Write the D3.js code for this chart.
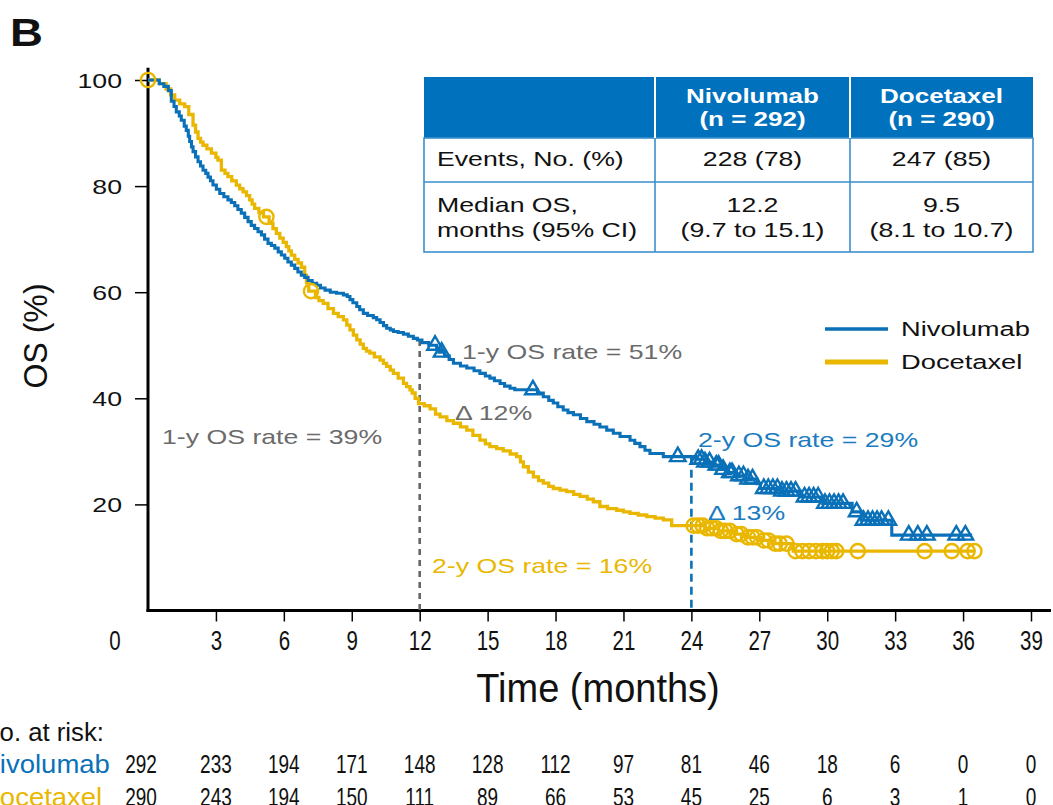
<!DOCTYPE html>
<html>
<head>
<meta charset="utf-8">
<script src="https://cdn.jsdelivr.net/npm/d3@7"></script>
<style>
  body { margin: 0; background: #fff; }
  svg { display: block; }
</style>
</head>
<body>
<svg id="chart" width="1053" height="805"></svg>
<script>
// ---------------- data ----------------
// Kaplan-Meier steps: time (months) and survival (%) after each step
const nivoTimes = [0, 0.5, 0.7, 0.9, 1.03, 1.15, 1.25, 1.38, 1.47, 1.6, 1.69, 1.78, 1.84, 1.92, 1.99, 2.1, 2.21, 2.32, 2.43, 2.55, 2.65, 2.76, 2.87, 3.02, 3.17, 3.35, 3.53, 3.68, 3.83, 3.97, 4.12, 4.27, 4.42, 4.56, 4.71, 4.86, 5.01, 5.15, 5.3, 5.45, 5.6, 5.75, 5.89, 6.04, 6.18, 6.33, 6.48, 6.62, 6.77, 6.92, 7.07, 7.25, 7.45, 7.62, 7.82, 8.05, 8.33, 8.63, 8.8, 8.92, 9.05, 9.22, 9.35, 9.51, 9.7, 9.95, 10.1, 10.25, 10.4, 10.54, 10.7, 10.84, 11.05, 11.28, 11.5, 11.72, 11.9, 12.1, 12.4, 12.75, 12.85, 13.1, 13.3, 13.49, 13.8, 14.08, 14.4, 14.66, 14.9, 15.1, 15.3, 15.55, 15.75, 15.99, 16.2, 17.2, 17.46, 17.7, 17.9, 18.1, 18.34, 18.55, 18.79, 19.1, 19.38, 19.7, 19.96, 20.26, 20.55, 20.85, 21.29, 21.5, 21.73, 21.95, 22.17, 22.76, 24.2, 24.6, 25.0, 25.3, 25.6, 25.95, 26.4, 26.9, 27.05, 28.0, 28.8, 29.8, 31.1, 31.5, 32.85, 36.4];
const nivoSurv  = [100, 99.3, 98.8, 98.0, 96.0, 95.0, 94.0, 93.2, 92.4, 91.3, 90.5, 89.4, 88.4, 87.4, 86.5, 85.5, 84.6, 83.8, 83.0, 82.4, 81.7, 81.0, 80.2, 79.4, 78.6, 78.0, 77.4, 76.9, 76.3, 75.6, 74.9, 74.1, 73.3, 72.6, 72.0, 71.4, 70.8, 70.0, 69.2, 68.8, 68.3, 67.6, 67.0, 66.4, 65.7, 65.1, 64.5, 63.8, 63.2, 62.8, 62.2, 61.7, 61.3, 60.8, 60.4, 60.0, 59.8, 59.5, 59.2, 58.6, 58.0, 57.3, 56.7, 56.0, 55.6, 55.2, 54.8, 54.3, 53.7, 53.2, 52.9, 52.6, 52.4, 52.1, 51.7, 51.3, 51.0, 50.5, 50.0, 49.3, 48.7, 48.0, 47.3, 46.6, 46.1, 45.7, 45.2, 44.7, 44.2, 43.8, 43.3, 42.8, 42.3, 41.9, 41.6, 41.0, 40.3, 39.6, 39.1, 38.4, 37.8, 37.3, 36.9, 36.2, 35.6, 35.1, 34.6, 34.0, 33.4, 32.8, 32.1, 31.5, 30.9, 30.2, 29.6, 29.0, 28.5, 28.0, 27.4, 26.6, 26.0, 25.4, 24.8, 23.9, 23.0, 22.5, 21.4, 20.2, 18.6, 17.0, 14.2, 14.2];
const nivoCensor = [12.68, 12.97, 17.0, 23.4, 24.3, 24.45, 24.6, 24.8, 25.1, 25.2, 25.4, 25.7, 25.8, 26.1, 26.3, 26.5, 26.7, 27.2, 27.4, 27.6, 27.8, 28.0, 28.2, 28.4, 28.6, 29.0, 29.2, 29.4, 29.6, 29.9, 30.1, 30.3, 30.5, 30.7, 31.3, 31.6, 31.8, 32.0, 32.2, 32.4, 32.7, 33.6, 34.0, 34.4, 35.7, 36.1];

const doceTimes = [0, 0.5, 0.8, 1.0, 1.18, 1.4, 1.62, 1.8, 1.99, 2.1, 2.21, 2.32, 2.43, 2.6, 2.8, 3.0, 3.09, 3.24, 3.4, 3.53, 3.7, 3.9, 4.05, 4.2, 4.35, 4.49, 4.6, 4.71, 4.9, 5.1, 5.35, 5.52, 5.67, 5.82, 5.97, 6.11, 6.22, 6.33, 6.48, 6.63, 6.78, 6.92, 7.0, 7.1, 7.4, 7.55, 7.74, 7.95, 8.19, 8.4, 8.63, 8.78, 8.92, 9.07, 9.22, 9.37, 9.51, 9.65, 9.8, 10.0, 10.25, 10.4, 10.54, 10.7, 10.84, 11.05, 11.28, 11.42, 11.57, 11.67, 11.8, 11.95, 12.2, 12.46, 12.7, 12.9, 13.2, 13.49, 13.8, 14.08, 14.35, 14.66, 14.9, 15.1, 15.4, 15.69, 16.0, 16.28, 16.45, 16.58, 16.8, 17.02, 17.25, 17.46, 17.7, 17.9, 18.2, 18.49, 18.8, 19.08, 19.4, 19.67, 19.96, 20.3, 20.7, 21.0, 21.29, 21.65, 22.03, 22.4, 22.76, 23.13, 24.6, 25.2, 25.9, 26.4, 27.0, 27.6, 28.5, 36.5];
const doceSurv  = [100, 99.3, 98.3, 97.2, 96.2, 95.5, 95.0, 93.5, 91.5, 90.2, 89.0, 88.3, 87.7, 87.0, 86.2, 85.4, 84.9, 83.0, 82.4, 81.8, 81.0, 80.2, 79.5, 78.9, 78.2, 77.4, 76.6, 75.8, 75.0, 74.2, 73.0, 72.0, 71.1, 70.2, 69.4, 68.6, 67.8, 67.0, 66.2, 65.5, 64.7, 63.2, 61.8, 60.2, 59.0, 58.4, 57.9, 56.9, 56.0, 55.4, 54.8, 53.8, 52.9, 51.9, 51.0, 50.2, 49.4, 48.9, 48.5, 47.8, 47.2, 46.6, 46.0, 45.3, 44.7, 43.8, 42.8, 42.2, 41.6, 41.0, 40.0, 39.0, 38.6, 38.0, 37.0, 36.5, 35.8, 35.3, 34.6, 34.0, 33.0, 32.1, 31.4, 30.9, 30.5, 30.1, 29.5, 29.0, 28.0, 27.1, 26.1, 25.2, 24.5, 24.0, 23.4, 23.0, 22.7, 22.4, 21.9, 21.5, 21.0, 20.5, 19.6, 19.2, 18.9, 18.6, 18.3, 18.0, 17.7, 17.4, 17.1, 16.0, 15.5, 15.0, 14.4, 13.8, 13.2, 12.6, 11.2, 11.2];
const doceCensor = [0, 5.23, 7.2, 24.1, 24.3, 24.5, 24.7, 24.9, 25.1, 25.3, 25.5, 25.7, 26.0, 26.2, 26.5, 26.7, 26.9, 27.2, 27.4, 27.7, 27.9, 28.2, 28.6, 28.9, 29.2, 29.5, 29.8, 30.0, 30.2, 30.4, 31.35, 34.3, 35.5, 36.2, 36.5];

// landmark survival rates (1 year, 2 years)
const landmarkMonths = [12, 24];
const nivoRates = [51, 29];
const doceRates = [39, 16];
const rateDiffs = [12, 13];

const xTicks = [3, 6, 9, 12, 15, 18, 21, 24, 27, 30, 33, 36, 39];
const yTicks = [20, 40, 60, 80, 100];

const riskTimes = [0, 3, 6, 9, 12, 15, 18, 21, 24, 27, 30, 33, 36, 39];
const nivoAtRisk = [292, 233, 194, 171, 148, 128, 112, 97, 81, 46, 18, 6, 0, 0];
const doceAtRisk = [290, 243, 194, 150, 111, 89, 66, 53, 45, 25, 6, 3, 1, 0];

const armNames = ["Nivolumab", "Docetaxel"];
const armN = [292, 290];
const eventsRow = ["228 (78)", "247 (85)"];
const medianRow = ["12.2", "9.5"];
const ciRow = ["(9.7 to 15.1)", "(8.1 to 10.7)"];

// ---------------- styling ----------------
const BLUE = "#0a71b9";
const YELLOW = "#eab700";
const GRAY = "#6b6b6b";
const SANS = "'Liberation Sans', Arial, Helvetica, sans-serif";
const SX = 1.27; // horizontal stretch of the regular text
const CX = 0.76; // horizontal squeeze of the condensed text

const svg = d3.select("#chart");

const x = d3.scaleLinear().domain([0, 39]).range([148, 1031]);
const y = d3.scaleLinear().domain([0, 100]).range([610.5, 80]);

// text helper: (x, y) is the anchor point at vertical middle
function addText(parent, px, py, str, o = {}) {
  const tr = `translate(${px},${py})` + (o.rotate ? ` rotate(${o.rotate})` : "") +
             ` scale(${o.sx ?? SX},${o.sy ?? 1})`;
  const g = parent.append("g").attr("transform", tr);
  return g.append("text")
    .attr("text-anchor", o.anchor || "start")
    .attr("dy", "0.35em")
    .attr("fill", o.fill || "#111")
    .style("font-family", o.family || SANS)
    .style("font-size", (o.size || 21) + "px")
    .style("font-weight", o.weight || "normal")
    .text(str);
}

// panel letter
addText(svg, 10, 33, "B", { size: 38, weight: "bold", sx: 1.2 });

// ---------------- axes ----------------
const axisG = svg.append("g");

// y axis
axisG.append("line")
  .attr("x1", x(0)).attr("x2", x(0))
  .attr("y1", y(102.3)).attr("y2", y(0) + 1.5)
  .attr("stroke", "#000").attr("stroke-width", 3);

const yAxis = axisG.append("g")
  .attr("transform", `translate(${x(0)},0)`)
  .call(d3.axisLeft(y).tickValues(yTicks).tickSize(13).tickFormat(d3.format("d")));
yAxis.select(".domain").remove();
yAxis.selectAll(".tick line").attr("stroke", "#000").attr("stroke-width", 1.5);
yAxis.selectAll(".tick text")
  .attr("x", 0).attr("dy", "0.35em")
  .attr("transform", `translate(-26,0) scale(${SX},1)`)
  .attr("fill", "#111")
  .style("font-family", SANS).style("font-size", "21px");

// x axis
axisG.append("line")
  .attr("x1", x(0) - 1.5).attr("x2", 1051)
  .attr("y1", y(0)).attr("y2", y(0))
  .attr("stroke", "#000").attr("stroke-width", 3);

const xAxis = axisG.append("g")
  .attr("transform", `translate(0,${y(0)})`)
  .call(d3.axisBottom(x).tickValues(xTicks).tickSize(11).tickFormat(d3.format("d")));
xAxis.select(".domain").remove();
xAxis.selectAll(".tick line").attr("stroke", "#000").attr("stroke-width", 1.5);
xAxis.selectAll(".tick text")
  .attr("y", 0).attr("dy", "0.35em")
  .attr("transform", `translate(0,30) scale(${CX},1)`)
  .attr("fill", "#111")
  .style("font-family", SANS).style("font-size", "27px");
// origin label
addText(svg, x(0) - 33, y(0) + 30, "0", { size: 27, sx: CX, anchor: "middle" });

// axis titles
addText(svg, 598, 688, "Time (months)", { size: 40, sx: 0.95, anchor: "middle" });
addText(svg, 35, 336, "OS (%)", { size: 30, rotate: -90, sx: 1.07, sy: 1.12, anchor: "middle" });

// ---------------- landmark reference lines ----------------
svg.append("line")
  .attr("x1", x(landmarkMonths[0])).attr("x2", x(landmarkMonths[0]))
  .attr("y1", y(nivoRates[0])).attr("y2", y(0))
  .attr("stroke", "#666").attr("stroke-width", 2.6).attr("stroke-dasharray", "6,5");
svg.append("line")
  .attr("x1", x(landmarkMonths[1])).attr("x2", x(landmarkMonths[1]))
  .attr("y1", y(nivoRates[1])).attr("y2", y(0))
  .attr("stroke", BLUE).attr("stroke-width", 2.6).attr("stroke-dasharray", "8,5");

// ---------------- survival curves ----------------
function steps(times, surv) { return times.map((t, i) => ({ t, s: surv[i] })); }
function survAt(times, surv, t) {
  let v = surv[0];
  for (let i = 0; i < times.length; i++) { if (times[i] <= t) v = surv[i]; else break; }
  return v;
}
const line = d3.line().x(d => x(d.t)).y(d => y(d.s)).curve(d3.curveStepAfter);

const arms = [
  { times: doceTimes, surv: doceSurv, censor: doceCensor, color: YELLOW, width: 3.3, mark: "circle" },
  { times: nivoTimes, surv: nivoSurv, censor: nivoCensor, color: BLUE, width: 3.1, mark: "triangle" }
];

arms.forEach(a => {
  svg.append("path")
    .datum(steps(a.times, a.surv))
    .attr("d", line)
    .attr("fill", "none")
    .attr("stroke", a.color)
    .attr("stroke-width", a.width)
    .attr("stroke-linejoin", "miter");
});

// censoring marks
arms.forEach(a => {
  const g = svg.append("g");
  const sym = d3.symbol().type(a.mark === "circle" ? d3.symbolCircle : d3.symbolTriangle)
    .size(a.mark === "circle" ? 160 : 105);
  g.selectAll("path")
    .data(a.censor)
    .join("path")
    .attr("transform", t => `translate(${x(t)},${y(survAt(a.times, a.surv, t))})`)
    .attr("d", sym)
    .attr("fill", "none")
    .attr("stroke", a.color)
    .attr("stroke-width", 2.4);
});

// ---------------- annotations ----------------
addText(svg, 462, 352, `1-y OS rate = ${nivoRates[0]}%`, { fill: GRAY });
addText(svg, 455, 413, `\u0394 ${rateDiffs[0]}%`, { fill: GRAY });
addText(svg, 162, 437, `1-y OS rate = ${doceRates[0]}%`, { fill: GRAY });
addText(svg, 432, 566, `2-y OS rate = ${doceRates[1]}%`, { fill: YELLOW });
addText(svg, 698, 440, `2-y OS rate = ${nivoRates[1]}%`, { fill: "#1b7cc0" });
addText(svg, 708, 513, `\u0394 ${rateDiffs[1]}%`, { fill: "#1b7cc0" });

// ---------------- legend ----------------
const legend = svg.append("g");
[BLUE, YELLOW].forEach((c, i) => {
  const ly = 329 + i * 33;
  legend.append("line")
    .attr("x1", 825).attr("x2", 888).attr("y1", ly).attr("y2", ly)
    .attr("stroke", c).attr("stroke-width", i === 0 ? 3.4 : 5);
  addText(legend, 901, ly, armNames[i], { size: 21, sx: 1.3 });
});

// ---------------- summary table ----------------
const tbl = svg.append("g");
const colX = [424, 655, 850, 1033];
const rowY = [77, 138, 182, 252];
tbl.append("rect")
  .attr("x", colX[0]).attr("y", rowY[0])
  .attr("width", colX[3] - colX[0]).attr("height", rowY[1] - rowY[0])
  .attr("fill", "#0071bc");
tbl.append("rect")
  .attr("x", colX[0]).attr("y", rowY[1])
  .attr("width", colX[3] - colX[0]).attr("height", rowY[3] - rowY[1])
  .attr("fill", "#fff").attr("stroke", "#3b8fcc").attr("stroke-width", 1.6);
tbl.append("line")
  .attr("x1", colX[0]).attr("x2", colX[3]).attr("y1", rowY[2]).attr("y2", rowY[2])
  .attr("stroke", "#3b8fcc").attr("stroke-width", 1.6);
[colX[1], colX[2]].forEach(cx => {
  tbl.append("line").attr("x1", cx).attr("x2", cx).attr("y1", rowY[0]).attr("y2", rowY[1])
    .attr("stroke", "#fff").attr("stroke-width", 2);
  tbl.append("line").attr("x1", cx).attr("x2", cx).attr("y1", rowY[1]).attr("y2", rowY[3])
    .attr("stroke", "#3b8fcc").attr("stroke-width", 1.6);
});
armNames.forEach((name, i) => {
  const cx = (colX[i + 1] + colX[i + 2]) / 2;
  addText(tbl, cx, 96, name, { fill: "#fff", anchor: "middle", weight: "bold", size: 20, sx: 1.3 });
  addText(tbl, cx, 119, `(n = ${armN[i]})`, { fill: "#fff", anchor: "middle", weight: "bold", size: 20, sx: 1.3 });
  addText(tbl, cx, 159, eventsRow[i], { anchor: "middle" });
  addText(tbl, cx, 205, medianRow[i], { anchor: "middle" });
  addText(tbl, cx, 230, ciRow[i], { anchor: "middle" });
});
addText(tbl, 437, 159, "Events, No. (%)");
addText(tbl, 437, 205, "Median OS,");
addText(tbl, 437, 230, "months (95% CI)");

// ---------------- number at risk ----------------
// row labels start just left of the page edge
const risk = svg.append("g");
addText(risk, -19, 732, "No. at risk:", { size: 25, sx: 1.03 });
[[nivoAtRisk, BLUE, 764], [doceAtRisk, YELLOW, 797]].forEach(([vals, c, ry], i) => {
  addText(risk, -20, ry, armNames[i], { size: 25, sx: 1.1, fill: c });
  vals.forEach((v, j) => {
    const px = riskTimes[j] === 0 ? x(0) - 7 : x(riskTimes[j]);
    addText(risk, px, ry, String(v), { size: 25, sx: CX, anchor: "middle" });
  });
});
</script>
</body>
</html>
